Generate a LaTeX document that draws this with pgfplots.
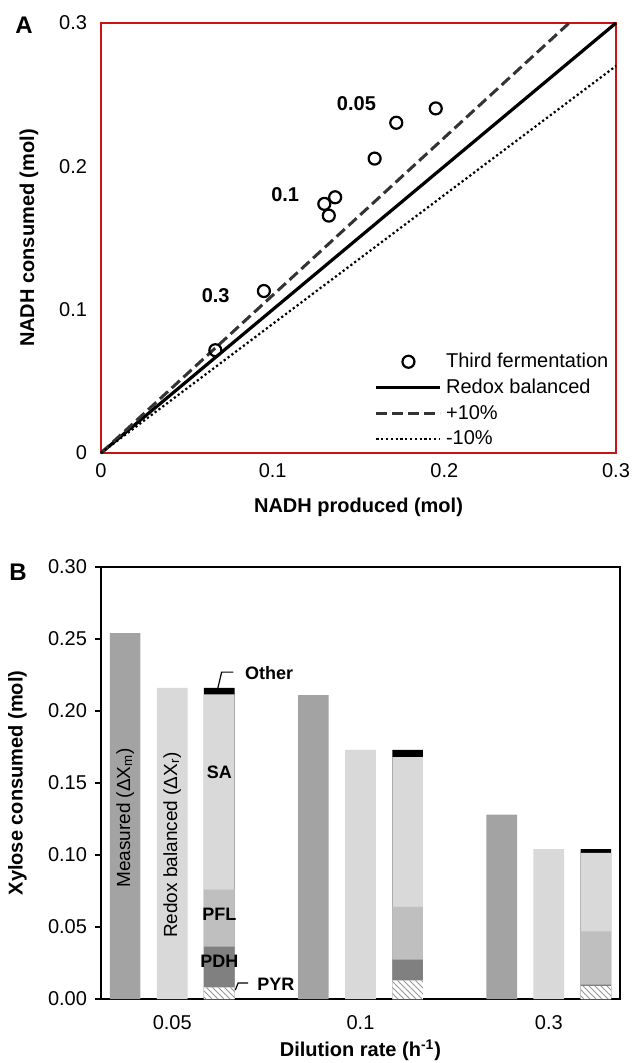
\documentclass[border=0pt]{standalone}
\usepackage{fontspec}
\setmainfont{Liberation Sans}
\usepackage{pgfplots}
\pgfplotsset{compat=1.18}
\usetikzlibrary{patterns}

\definecolor{frame}{RGB}{200,20,20}
\definecolor{meas}{RGB}{163,163,163}
\definecolor{light}{RGB}{217,217,217}
\definecolor{pfl}{RGB}{191,191,191}
\definecolor{pdh}{RGB}{128,128,128}

\newcommand{\tk}{\fontsize{10}{11}\selectfont}
\newcommand{\lb}{\bfseries\fontsize{10}{11}\selectfont}

\pgfplotsset{
  lineleg/.style={legend image code/.code={\draw[##1] (0pt,0pt) -- (32pt,0pt);}},
  markleg/.style={legend image code/.code={\draw[mark repeat=2,mark phase=2,##1] plot coordinates {(0pt,0pt) (16pt,0pt) (32pt,0pt)};}},
  bar/.style={ybar, bar width=0.65, bar shift=0pt, draw=none},
}

\begin{document}
\begin{tikzpicture}
\path[use as bounding box] (0,0) rectangle (316pt,531.5pt);

\node[font=\bfseries\fontsize{12}{12}\selectfont] at (12pt,519pt) {A};
\node[font=\bfseries\fontsize{12}{12}\selectfont] at (9pt,245.5pt) {B};

% ---------- A ----------
\begin{axis}[
  at={(50.5pt,305pt)}, anchor=south west,
  scale only axis, width=257.5pt, height=215pt,
  xmin=0, xmax=0.3, ymin=0, ymax=0.3,
  xtick={0,0.1,0.2,0.3}, ytick={0,0.1,0.2,0.3},
  xticklabels={0,0.1,0.2,0.3}, yticklabels={0,0.1,0.2,0.3},
  /pgf/number format/assume math mode=true,
  major tick length=0pt,
  axis line style={draw=frame, line width=0.9pt},
  tick label style={font=\tk},
  xticklabel style={yshift=-1.5pt}, yticklabel style={xshift=-3.5pt},
  xlabel={NADH produced (mol)}, ylabel={NADH consumed (mol)},
  label style={font=\lb},
  xlabel style={at={(axis description cs:0.5,-0.126)}, anchor=center},
  ylabel style={at={(axis description cs:-0.14,0.5)}, anchor=center},
  legend style={at={(axis description cs:0.531,0.002)}, anchor=south west,
    draw=none, fill=none, inner sep=0pt, font=\fontsize{10}{11}\selectfont,
    row sep=0.3pt},
  legend cell align=left,
  clip=false,
]
\addplot[only marks, mark=o, mark size=3pt, mark options={line width=1.1pt, fill=white}, markleg]
  coordinates {(0.0666,0.0717) (0.0949,0.1130) (0.1301,0.1738) (0.1327,0.1656)
               (0.1364,0.1784) (0.1594,0.2054) (0.1720,0.2304) (0.1950,0.2404)};
\addlegendentry{Third fermentation}
\addplot[black, line width=1.6pt, lineleg] coordinates {(0,0) (0.3,0.3)};
\addlegendentry{Redox balanced}
\addplot[black!80, line width=1.5pt, dash pattern=on 5.5pt off 2.5pt, lineleg]
  coordinates {(0,0) (0.2727,0.3)};
\addlegendentry{+10\%}
\addplot[black, line width=1.1pt, dash pattern=on 1.1pt off 1.3pt, lineleg]
  coordinates {(0,0) (0.3,0.27)};
\addlegendentry{-10\%}

\node[font=\lb] at (axis cs:0.1488,0.244) {0.05};
\node[font=\lb] at (axis cs:0.1073,0.1805) {0.1};
\node[font=\lb] at (axis cs:0.0668,0.110) {0.3};
\end{axis}

% ---------- B ----------
\begin{axis}[
  at={(50.5pt,32pt)}, anchor=south west,
  scale only axis, width=259.5pt, height=216pt,
  xmin=-0.513, xmax=10.513, ymin=0, ymax=0.3,
  xtick={1,5,9}, xticklabels={0.05,0.1,0.3},
  ytick={0,0.05,0.1,0.15,0.2,0.25,0.3},
  yticklabels={0.00,0.05,0.10,0.15,0.20,0.25,0.30},
  /pgf/number format/assume math mode=true,
  tick align=outside, major tick length=3pt, ytick pos=left,
  xtick style={draw=none}, ytick style={black, line width=0.8pt},
  axis line style={line width=1pt},
  tick label style={font=\tk},
  xticklabel style={yshift=-1.8pt}, yticklabel style={xshift=-0.5pt},
  xlabel={Dilution rate (h\textsuperscript{-1})}, ylabel={Xylose consumed (mol)},
  label style={font=\lb},
  xlabel style={at={(axis description cs:0.5,-0.118)}, anchor=center},
  ylabel style={at={(axis description cs:-0.161,0.5)}, anchor=center},
  clip=false,
]
% single bars
\addplot[bar, fill=meas] coordinates {(0,0.254) (4,0.211) (8,0.128)};
\addplot[bar, fill=light] coordinates {(1,0.216) (5,0.173) (9,0.104)};
% third bar: cumulative tops, drawn from the top segment down
\addplot[bar, fill=black] coordinates {(2,0.216) (6,0.173) (10,0.104)};   % Other
\addplot[bar, fill=light] coordinates {(2,0.2116) (6,0.168) (10,0.1015)}; % SA
\addplot[bar, fill=pfl] coordinates {(2,0.076) (6,0.064) (10,0.047)};     % PFL
\addplot[bar, fill=pdh] coordinates {(2,0.0364) (6,0.0273) (10,0.010)};   % PDH
\addplot[bar, fill=white, postaction={pattern=north west lines, pattern color=gray!80}]
  coordinates {(2,0.008) (6,0.013) (10,0.009)};                             % PYR

\node[rotate=90, font=\fontsize{9.5}{10}\selectfont] at (axis cs:0,0.1258) {Measured (ΔX\textsubscript{m})};
\node[rotate=90, font=\fontsize{9.5}{10}\selectfont] at (axis cs:1,0.107) {Redox balanced (ΔX\textsubscript{r})};
\node[font=\bfseries\fontsize{9}{10}\selectfont] at (axis cs:2,0.1576) {SA};
\node[font=\bfseries\fontsize{9}{10}\selectfont] at (axis cs:2,0.0588) {PFL};
\node[font=\bfseries\fontsize{9}{10}\selectfont] at (axis cs:2,0.0263) {PDH};
\draw[line width=0.6pt] (axis cs:1.97,0.216) -- (axis cs:2.05,0.227) -- (axis cs:2.30,0.227);
\node[font=\bfseries\fontsize{9}{10}\selectfont, anchor=west] at (axis cs:2.40,0.2265) {Other};
\draw[line width=0.6pt] (axis cs:2.34,0.0062) -- (axis cs:2.40,0.0111) -- (axis cs:2.61,0.0111);
\node[font=\bfseries\fontsize{9}{10}\selectfont, anchor=west] at (axis cs:2.66,0.0100) {PYR};
\end{axis}
\end{tikzpicture}
\end{document}
